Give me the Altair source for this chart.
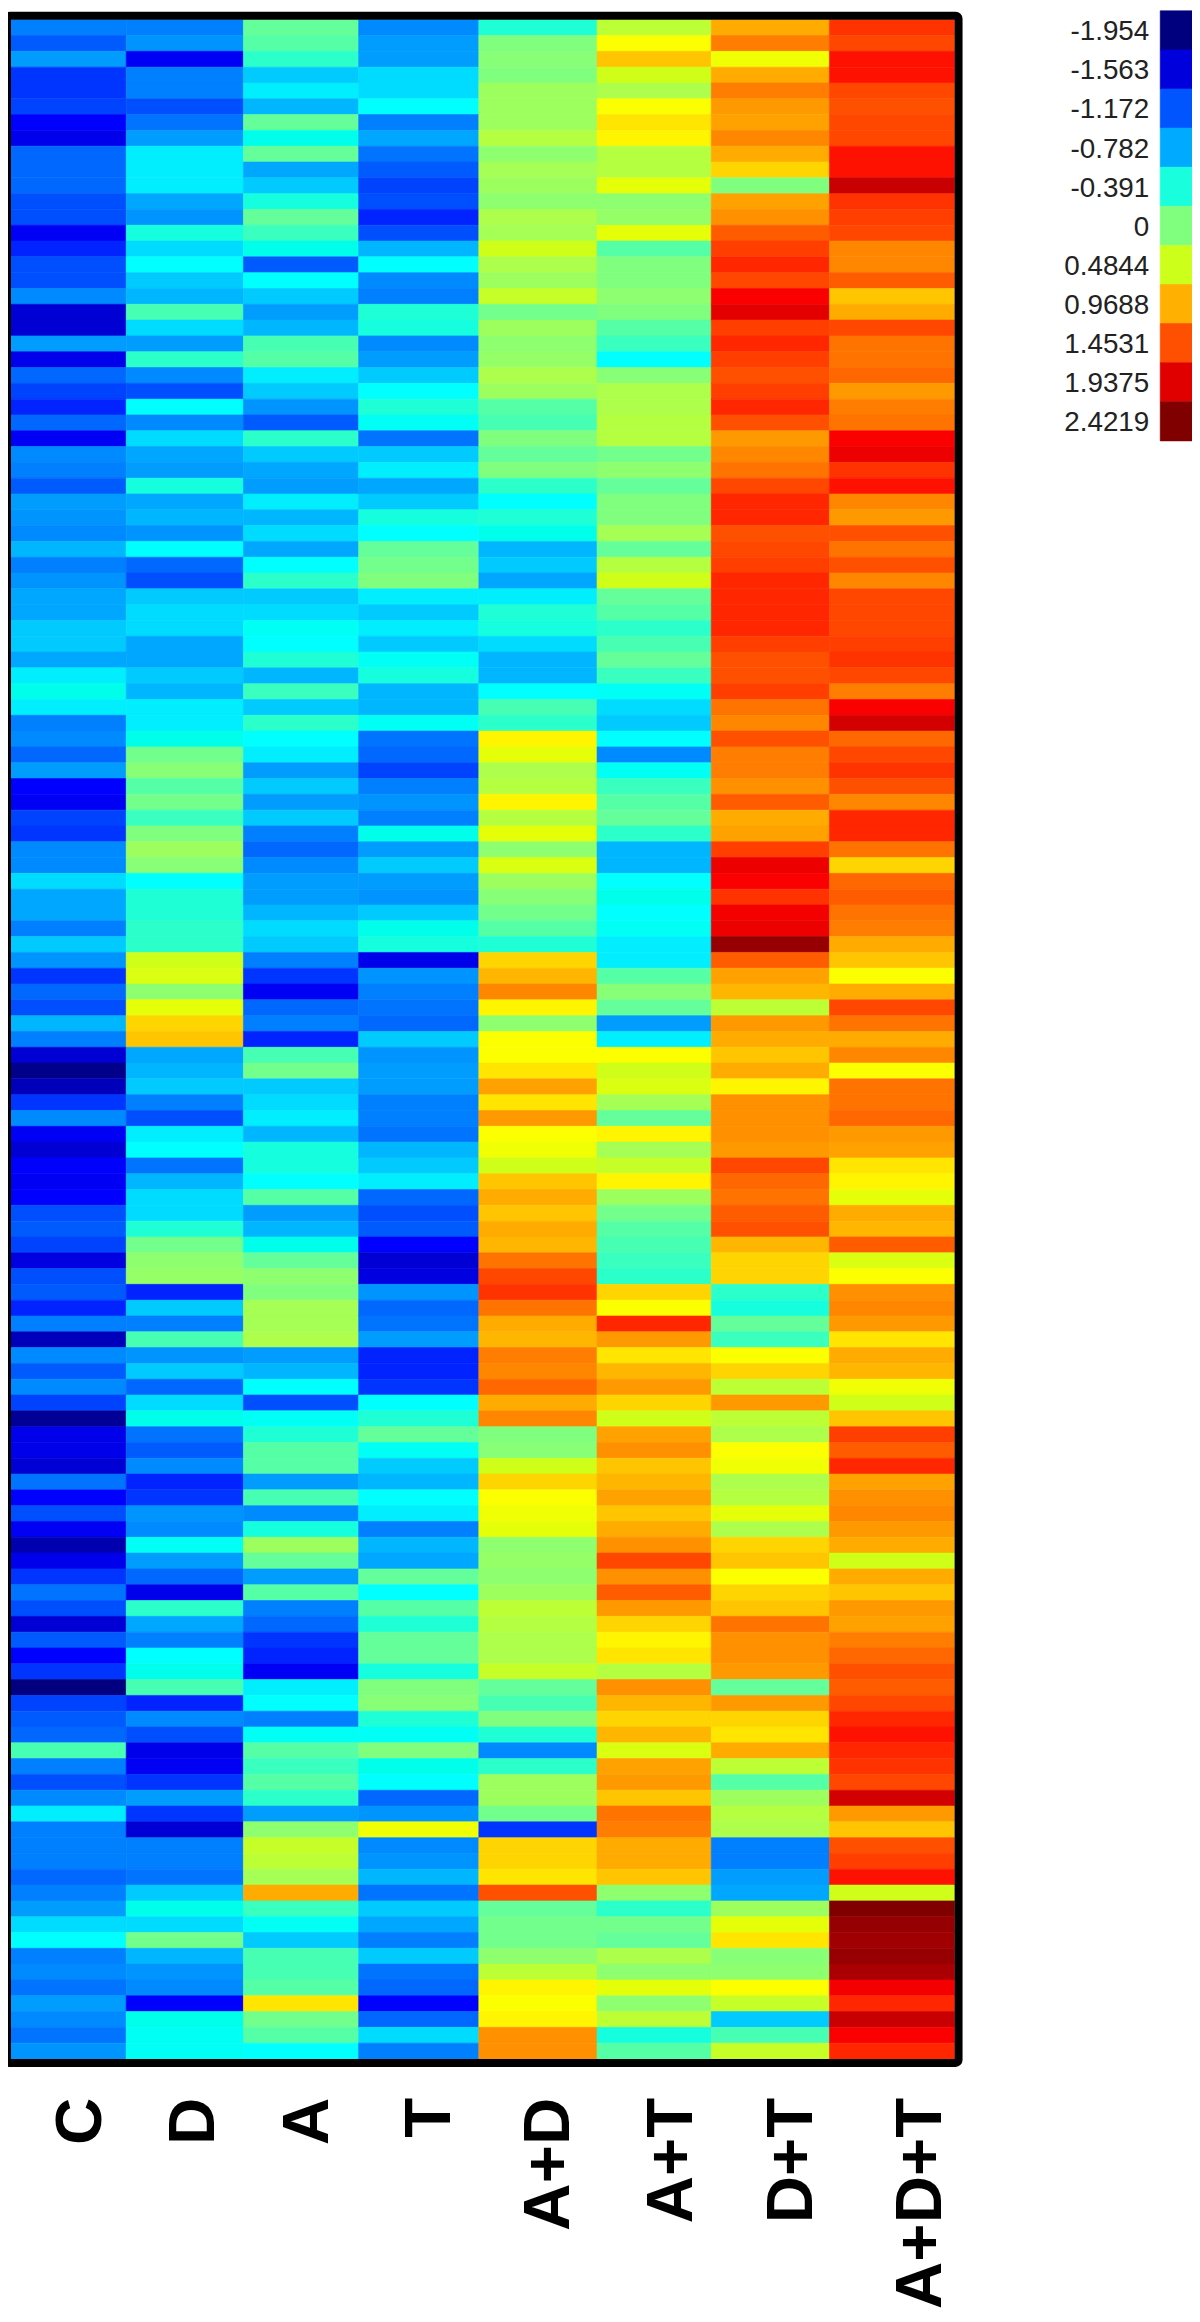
import altair as alt
import pandas as pd

columns = ["C", "D", "A", "T", "A+D", "A+T", "D+T", "A+D+T"]

C = [-1.0,-1.15,-0.85,-1.3,-1.3,-1.25,-1.4,-1.5,-1.1,-1.1,-1.1,-1.2,-1.2,-1.45,-1.35,-1.2,-1.2,-0.95,-1.6,-1.6,-0.85,-1.5,-1.1,-1.25,-1.35,-1.1,-1.45,-0.95,-1.0,-1.15,-0.85,-0.9,
     -0.95,-0.75,-1.0,-0.9,-0.8,-0.8,-0.7,-0.7,-0.8,-0.6,-0.45,-0.6,-1.0,-0.95,-1.1,-0.85,-1.4,-1.45,-1.25,-1.3,-0.95,-0.95,-0.65,-0.8,-0.8,-1.0,-0.7,-0.9,-1.3,-1.1,-1.2,-0.75,
     -1.0,-1.6,-1.9,-1.7,-1.3,-0.95,-1.45,-1.6,-1.4,-1.45,-1.4,-1.2,-1.15,-1.25,-1.55,-1.2,-1.15,-1.35,-1.0,-1.7,-0.95,-1.15,-0.95,-1.25,-1.85,-1.5,-1.5,-1.6,-1.05,-1.4,-1.2,-1.45,-1.75,
     -1.5,-1.3,-1.05,-1.2,-1.6,-1.15,-1.4,-1.3,-1.95,-1.25,-1.15,-1.1,-0.2,-1.0,-1.2,-0.95,-0.6,-1.0,-1.0,-1.0,-1.1,-1.0,-0.85,-0.65,-0.55,-1.0,-0.95,-1.05,-0.85,-0.95,-1.05,-0.9]
D = [-1.0,-0.9,-1.45,-1.0,-1.0,-1.2,-1.05,-0.85,-0.6,-0.6,-0.6,-0.8,-0.9,-0.4,-0.65,-0.55,-0.7,-0.75,-0.2,-0.65,-0.85,-0.3,-0.95,-1.2,-0.55,-0.95,-0.65,-0.8,-0.85,-0.4,-0.8,-0.75,
     -0.9,-0.55,-1.1,-1.2,-0.7,-0.65,-0.65,-0.8,-0.8,-0.7,-0.75,-0.6,-0.6,-0.45,-0.05,0.05,-0.15,-0.05,-0.25,0.0,0.2,0.05,-0.55,-0.35,-0.35,-0.3,-0.3,0.5,0.55,0.1,0.6,0.85,
     0.9,-0.8,-0.75,-0.7,-1.0,-1.2,-0.6,-0.55,-1.05,-0.75,-0.65,-0.65,-0.35,-0.05,0.1,0.15,-1.35,-0.7,-1.0,-0.2,-0.9,-0.7,-1.1,-0.65,-0.45,-1.05,-1.15,-0.95,-1.35,-1.3,-0.9,-0.95,-0.5,
     -0.85,-1.1,-1.5,-0.3,-0.8,-1.0,-0.55,-0.45,-0.2,-1.35,-0.95,-1.2,-1.5,-1.45,-1.3,-0.85,-1.3,-1.6,-1.0,-1.0,-1.05,-0.7,-0.45,-0.65,-0.05,-0.75,-0.9,-0.95,-1.4,-0.45,-0.5,-0.5]
A = [-0.1,-0.15,-0.3,-0.7,-0.6,-0.75,-0.1,-0.45,-0.1,-0.8,-0.7,-0.4,-0.1,-0.25,-0.45,-1.15,-0.55,-0.7,-0.85,-0.75,-0.2,-0.15,-0.6,-0.7,-0.9,-1.15,-0.3,-0.7,-0.8,-0.85,-0.6,-0.75,
     -0.65,-0.8,-0.55,-0.3,-0.7,-0.65,-0.5,-0.55,-0.35,-0.75,-0.25,-0.7,-0.3,-0.55,-0.6,-0.85,-0.7,-0.85,-0.7,-1.0,-1.1,-0.95,-0.85,-0.85,-0.75,-0.65,-0.7,-1.0,-1.3,-1.45,-1.1,-1.0,
     -1.35,-0.2,-0.05,-0.7,-0.65,-0.6,-0.75,-0.4,-0.4,-0.55,-0.15,-0.85,-0.75,-0.45,-0.1,0.1,0.0,0.25,0.25,0.3,-0.85,-0.75,-0.55,-1.2,-0.5,-0.35,-0.15,-0.15,-0.85,-0.2,-0.95,-0.4,0.2,
     -0.1,-0.85,-0.15,-1.0,-1.1,-1.3,-1.35,-1.45,-0.6,-0.55,-1.0,-0.5,-0.15,-0.25,-0.15,-0.3,-0.85,0.1,0.45,0.4,0.25,1.0,-0.25,-0.5,-0.7,-0.2,-0.2,-0.15,0.8,-0.05,-0.15,-0.55]
T = [-0.95,-0.85,-0.85,-0.65,-0.65,-0.55,-1.0,-0.8,-1.05,-1.15,-1.25,-1.2,-1.35,-1.2,-0.75,-0.55,-0.95,-1.0,-0.35,-0.4,-0.95,-0.85,-0.7,-0.55,-0.35,-0.5,-1.05,-0.7,-0.6,-0.8,-0.7,-0.4,
     -0.55,-0.1,-0.05,0.0,-0.6,-0.7,-0.6,-0.7,-0.5,-0.4,-0.75,-0.75,-0.5,-1.05,-1.1,-1.25,-1.0,-0.9,-1.0,-0.45,-0.85,-0.7,-0.85,-0.9,-0.7,-0.45,-0.4,-1.5,-0.9,-1.0,-1.05,-1.1,
     -0.7,-0.9,-0.85,-0.85,-1.0,-1.0,-1.05,-0.75,-0.7,-0.6,-1.1,-1.2,-1.15,-1.4,-1.6,-1.55,-0.9,-1.1,-1.05,-0.85,-1.35,-1.35,-1.3,-0.55,-0.35,-0.1,-0.5,-0.7,-0.75,-0.55,-0.6,-1.0,-0.75,
     -0.8,-0.1,-0.55,-0.15,-0.35,-0.1,-0.1,-0.4,0.0,0.05,-0.35,-0.5,0.0,-0.45,-0.55,-1.1,-0.9,0.65,-0.95,-0.9,-0.75,-1.05,-0.7,-0.8,-1.0,-0.7,-1.05,-1.1,-1.4,-1.1,-0.65,-1.0]
AD = [-0.35,0.0,0.05,0.0,0.2,0.2,0.2,0.35,0.1,0.25,0.2,0.1,0.3,0.25,0.5,0.3,0.2,0.45,-0.05,0.2,0.1,0.15,0.3,0.2,-0.15,-0.2,0.0,-0.1,0.0,-0.3,-0.55,-0.35,
      -0.45,-0.75,-0.7,-0.8,-0.6,-0.35,-0.4,-0.65,-0.75,-0.75,-0.55,-0.2,-0.3,0.75,0.6,0.3,0.35,0.75,0.35,0.6,0.1,0.55,0.2,0.05,-0.05,-0.15,-0.35,0.85,0.95,1.2,0.75,0.1,
      0.7,0.7,0.8,1.05,0.8,1.1,0.7,0.65,0.5,0.9,1.0,0.9,1.0,0.95,1.3,1.5,1.6,1.3,1.0,0.95,1.25,1.2,1.35,1.0,1.2,0.0,0.05,0.5,0.85,0.7,0.65,0.6,0.1,
      0.15,0.1,0.2,0.4,0.35,0.3,0.3,0.45,-0.1,-0.2,0.0,-0.35,-0.95,-0.3,0.2,0.2,-0.05,-1.3,0.85,0.85,0.8,1.45,-0.1,-0.05,-0.05,0.1,0.4,0.75,0.7,0.75,1.15,1.15]
AT = [0.4,0.7,0.9,0.5,0.3,0.7,0.8,0.75,0.35,0.35,0.6,0.1,0.15,0.6,-0.15,0.0,0.0,0.1,0.0,-0.15,-0.25,-0.55,0.05,0.3,0.3,0.35,0.35,-0.05,0.1,-0.1,0.0,0.0,
      0.25,-0.1,0.35,0.5,-0.1,-0.15,-0.3,-0.2,-0.1,-0.25,-0.5,-0.65,-0.7,-0.55,-0.95,-0.5,-0.25,-0.15,-0.1,-0.3,-0.75,-0.75,-0.55,-0.45,-0.55,-0.5,-0.6,-0.6,-0.15,0.05,-0.1,-0.85,
      -0.6,0.7,0.5,0.55,0.25,-0.1,0.75,0.25,0.45,0.75,0.2,-0.05,-0.15,-0.2,-0.25,-0.3,0.85,0.7,1.65,1.1,0.8,0.95,1.1,0.85,0.5,1.05,1.15,0.9,0.95,1.05,0.9,1.0,1.15,
      1.5,1.15,1.4,1.1,0.85,0.75,0.8,0.35,1.15,0.95,0.85,0.95,0.55,1.05,1.1,0.9,1.3,1.25,1.0,1.0,0.9,0.1,-0.3,-0.05,-0.1,0.3,0.1,0.6,0.1,0.4,-0.4,-0.15]
DT = [1.0,1.25,0.65,1.0,1.25,1.1,1.05,1.2,1.0,0.85,0.0,1.05,1.15,1.4,1.55,1.65,1.5,1.75,1.9,1.55,1.65,1.55,1.45,1.55,1.65,1.45,1.1,1.2,1.3,1.5,1.65,1.65,
      1.45,1.5,1.55,1.65,1.65,1.65,1.65,1.55,1.45,1.45,1.55,1.3,1.2,1.45,1.25,1.25,1.15,1.4,1.0,1.05,1.55,1.85,1.75,1.6,1.8,1.85,2.3,1.4,1.05,0.95,0.4,1.1,
      1.0,0.9,1.0,0.75,1.15,1.15,1.15,1.1,1.5,1.35,1.3,1.4,1.45,0.95,0.85,0.85,-0.3,-0.4,-0.1,-0.25,0.7,0.85,0.4,1.1,0.4,0.3,0.7,0.65,0.3,0.35,0.6,0.3,0.85,
      0.9,0.7,0.85,0.9,1.3,1.15,1.15,1.1,-0.1,1.1,0.85,0.8,1.0,0.4,-0.15,0.2,0.35,0.3,-1.0,-1.0,-0.85,-0.8,0.2,0.6,0.8,0.05,0.1,0.7,0.45,-0.7,-0.2,0.45]
ADT = [1.6,1.5,1.7,1.7,1.5,1.45,1.5,1.5,1.7,1.7,2.05,1.6,1.55,1.5,1.2,1.2,1.4,0.9,1.0,1.5,1.3,1.3,1.35,1.1,1.25,1.3,1.75,1.85,1.6,1.7,1.2,1.1,
       1.45,1.3,1.45,1.2,1.5,1.5,1.5,1.55,1.6,1.5,1.25,1.75,2.0,1.35,1.5,1.6,1.45,1.2,1.65,1.65,1.3,0.85,1.35,1.4,1.3,1.25,1.0,0.9,0.7,1.0,1.5,1.3,
       1.0,1.2,0.7,1.3,1.3,1.35,1.1,1.05,0.8,0.75,0.6,1.0,0.95,1.4,0.55,0.7,1.15,1.2,1.1,0.8,1.0,0.95,0.65,0.5,0.9,1.55,1.4,1.65,1.05,1.15,1.2,1.1,1.0,
       0.5,1.0,0.9,1.1,1.05,1.25,1.35,1.45,1.4,1.5,1.65,1.7,1.65,1.6,1.5,2.0,1.1,0.9,1.45,1.55,1.7,0.5,2.42,2.3,2.25,2.3,2.2,1.8,1.65,2.05,1.75,1.65]

legend_values = [-1.954, -1.563, -1.172, -0.782, -0.391, 0, 0.4844, 0.9688, 1.4531, 1.9375, 2.4219]
legend_labels = ["-1.954", "-1.563", "-1.172", "-0.782", "-0.391", "0", "0.4844", "0.9688", "1.4531", "1.9375", "2.4219"]

series = [C, D, A, T, AD, AT, DT, ADT]
n_rows = min(len(s) for s in series)

heat = pd.DataFrame(
    [
        {"col": i, "col_end": i + 1, "row": r, "row_end": r + 1, "value": s[r]}
        for i, s in enumerate(series)
        for r in range(n_rows)
    ]
)
labels = pd.DataFrame({"idx": list(range(len(columns))), "label": columns})
legend = pd.DataFrame(
    {
        "k": list(range(len(legend_values))),
        "k_end": [k + 1 for k in range(len(legend_values))],
        "left": [0] * len(legend_values),
        "right": [1] * len(legend_values),
        "mid": [k + 0.5 for k in range(len(legend_values))],
        "value": legend_values,
        "label": legend_labels,
    }
)

jet = alt.Scale(
    domain=[-1.954, -1.563, -1.40, -1.172, -0.782, -0.55, -0.391, 0, 0.4844, 0.72, 0.9688, 1.4531, 1.72, 1.9375, 2.4219],
    range=["#00007f", "#0000dd", "#0000ff", "#0055ff", "#00aaff", "#00ffff", "#19ffdd", "#80ff7f", "#ccff1a",
           "#ffff00", "#ffb000", "#ff4f00", "#ff0000", "#e00000", "#800000"],
)
color = alt.Color("value:Q", scale=jet, legend=None)
stroke = alt.Stroke("value:Q", scale=jet, legend=None)

col_scale = alt.Scale(domain=list(range(9)), range=[3, 119, 237, 353, 474, 593, 708, 827, 953], nice=False, zero=False)
row_scale = alt.Scale(domain=[0, n_rows], range=[4, 2057], nice=False, zero=False)

heatmap = (
    alt.Chart(heat)
    .mark_rect(strokeWidth=0.6)
    .encode(
        x=alt.X("col:Q", scale=col_scale, axis=None),
        x2="col_end:Q",
        y=alt.Y("row:Q", scale=row_scale, axis=None),
        y2="row_end:Q",
        color=color,
        stroke=stroke,
    )
)

frame = alt.Chart(labels.head(1)).mark_rect(
    fillOpacity=0, stroke="black", strokeWidth=8, cornerRadius=3
).encode(x=alt.value(-1), x2=alt.value(957), y=alt.value(0), y2=alt.value(2061))

col_labels = (
    alt.Chart(labels)
    .mark_text(angle=270, align="right", baseline="middle", font="Liberation Sans", fontWeight="bold",
               fontSize=66, color="black")
    .encode(
        x=alt.X("idx:Q", scale=alt.Scale(domain=list(range(8)), range=[74, 187, 302, 425, 545, 669, 789, 919],
                                         nice=False, zero=False), axis=None),
        y=alt.value(2096),
        text="label:N",
    )
)

leg_x = alt.Scale(domain=[0, 1], range=[1160, 1192], nice=False, zero=False)
leg_y = alt.Scale(domain=[0, 11], range=[-5, 428], nice=False, zero=False)

swatches = (
    alt.Chart(legend)
    .mark_rect(strokeWidth=0.6)
    .encode(
        x=alt.X("left:Q", scale=leg_x, axis=None),
        x2="right:Q",
        y=alt.Y("k:Q", scale=leg_y, axis=None),
        y2="k_end:Q",
        color=color,
        stroke=stroke,
    )
)
leg_text = (
    alt.Chart(legend)
    .mark_text(align="right", baseline="middle", font="Liberation Sans", fontSize=28, color="#222222", dy=2)
    .encode(
        x=alt.value(1149),
        y=alt.Y("mid:Q", scale=leg_y, axis=None),
        text="label:N",
    )
)

chart = (
    alt.layer(heatmap, frame, col_labels, swatches, leg_text)
    .resolve_scale(x="independent", y="independent")
    .properties(width=1192, height=2314, padding=0, autosize=alt.AutoSizeParams(type="none"))
    .configure_view(stroke=None)
)

chart.save("out.html", embed_options={"renderer": "svg", "actions": False})
